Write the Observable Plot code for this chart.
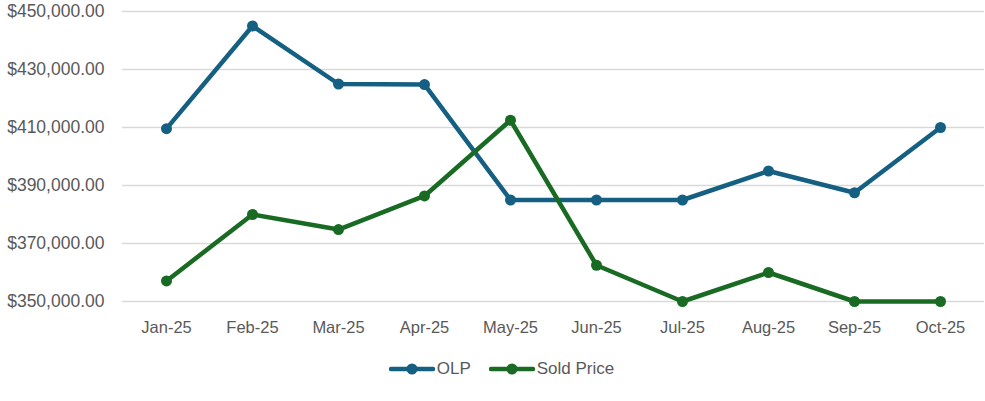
<!DOCTYPE html>
<html>
<head>
<meta charset="utf-8">
<script src="https://cdn.jsdelivr.net/npm/d3@7"></script>
<script src="https://cdn.jsdelivr.net/npm/@observablehq/plot@0.6"></script>
<style>
  html, body { margin: 0; padding: 0; background: #fff; }
  body { width: 985px; height: 401px; overflow: hidden; font-family: "Liberation Sans", Arial, sans-serif; }
  #legend { display: flex; justify-content: center; align-items: center; gap: 18px; margin-top: 19px; height: 20px; color: #595959; font-size: 17px; padding-left: 18px; }
  .item { display: flex; align-items: center; gap: 2px; }
</style>
</head>
<body>
<div id="chart"></div>
<div id="legend"></div>
<script>
const months = ["Jan-25","Feb-25","Mar-25","Apr-25","May-25","Jun-25","Jul-25","Aug-25","Sep-25","Oct-25"];
const olp = [409600, 445000, 425000, 424800, 385000, 385000, 385000, 395000, 387500, 410000];
const sold = [357100, 380000, 374800, 386400, 412500, 362500, 350000, 360000, 350000, 350000];
const seriesNames = ["OLP", "Sold Price"];
const seriesColors = ["#156082", "#196B24"];
const yTicks = [350000, 370000, 390000, 410000, 430000, 450000];

const data = [];
months.forEach((m, i) => {
  data.push({month: m, value: olp[i], series: seriesNames[0]});
  data.push({month: m, value: sold[i], series: seriesNames[1]});
});

const fmt = v => "$" + d3.format(",.2f")(v);

const chart = Plot.plot({
  width: 985,
  height: 340,
  marginTop: 11,
  marginBottom: 39,
  marginLeft: 122,
  marginRight: 1,
  style: { fontFamily: "Liberation Sans, Arial, sans-serif", fontSize: "16px", color: "#595959", background: "#fff" },
  x: { type: "point", domain: months, padding: 0.5, label: null },
  y: { domain: [350000, 450000], ticks: yTicks, label: null },
  color: { domain: seriesNames, range: seriesColors },
  marks: [
    Plot.gridY(yTicks, { stroke: "#d9d9d9", strokeOpacity: 1, strokeWidth: 1.5 }),
    Plot.axisY(yTicks, { tickSize: 0, tickPadding: 18, tickFormat: fmt, fill: "#595959", fontSize: 17.5 }),
    Plot.axisX({ tickSize: 0, tickPadding: 20, fill: "#595959", fontSize: 16.5 }),
    Plot.line(data, { x: "month", y: "value", z: "series", stroke: "series", strokeWidth: 4.5, strokeLinejoin: "round", strokeLinecap: "round" }),
    Plot.dot(data, { x: "month", y: "value", fill: "series", r: 5.5 })
  ]
});
document.getElementById("chart").appendChild(chart);

const legend = document.getElementById("legend");
seriesNames.forEach((name, i) => {
  const item = document.createElement("div");
  item.className = "item";
  item.innerHTML = `<svg width="46" height="14"><line x1="2" y1="7" x2="44" y2="7" stroke="${seriesColors[i]}" stroke-width="4.5" stroke-linecap="round"/><circle cx="23" cy="7" r="5.5" fill="${seriesColors[i]}"/></svg><span>${name}</span>`;
  legend.appendChild(item);
});
</script>
</body>
</html>
